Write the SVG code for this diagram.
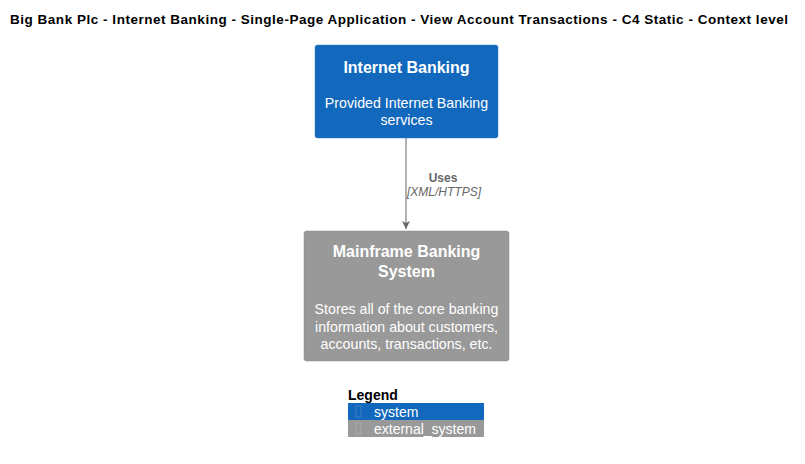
<svg xmlns="http://www.w3.org/2000/svg" width="805" height="464" viewBox="0 0 805 464">
<style>
text{font-family:"Liberation Sans",Arial,sans-serif}
.title{font-size:13.5px;font-weight:bold;fill:#000}
.nt{font-size:16px;font-weight:bold;fill:#fff;text-anchor:middle}
.nd{font-size:14.2px;fill:#fff;text-anchor:middle}
.rl{font-size:12px;font-weight:bold;fill:#666;text-anchor:middle}
.rt{font-size:12px;font-style:italic;fill:#666;text-anchor:middle}
.lg{font-size:14px;fill:#fff}
</style>
<defs>
<marker id="arr" markerWidth="10" markerHeight="10" refX="8" refY="4" orient="auto" markerUnits="userSpaceOnUse">
<path d="M0,0 L8,4 L0,8 L2,4 Z" fill="#666"/>
</marker>
</defs>
<rect width="805" height="464" fill="#fff"/>
<text class="title" x="10" y="24" textLength="778" lengthAdjust="spacing">Big Bank Plc - Internet Banking - Single-Page Application - View Account Transactions - C4 Static - Context level</text>
<g id="connectors">
<line x1="406" y1="138" x2="406" y2="229" stroke="#666" stroke-width="1" marker-end="url(#arr)"/>
<text class="rl" x="443" y="182">Uses</text>
<text class="rt" x="444" y="196">[XML/HTTPS]</text>
</g>
<g id="internet_banking">
<rect x="315" y="45" width="183" height="93" rx="2.5" fill="#1168BD" stroke="#3C7FC0" stroke-width="0.5"/>
<text class="nt" x="406.5" y="73">Internet Banking</text>
<text class="nd" x="406.5" y="108">Provided Internet Banking</text>
<text class="nd" x="406.5" y="125">services</text>
</g>
<g id="mainframe">
<rect x="304" y="231" width="205" height="130" rx="2.5" fill="#999999" stroke="#8A8A8A" stroke-width="0.5"/>
<text class="nt" x="406.5" y="257">Mainframe Banking</text>
<text class="nt" x="406.5" y="277">System</text>
<text class="nd" x="406.5" y="314">Stores all of the core banking</text>
<text class="nd" x="406.5" y="332">information about customers,</text>
<text class="nd" x="406.5" y="349">accounts, transactions, etc.</text>
</g>
<g id="legend">
<text x="348" y="400" font-size="14" font-weight="bold" fill="#000">Legend</text>
<rect x="348" y="403" width="136" height="17" fill="#1168BD"/>
<rect x="356" y="406" width="5" height="11" fill="none" stroke="#3C7FC0" stroke-width="1"/>
<text class="lg" x="374" y="417">system</text>
<rect x="348" y="420" width="136" height="17" fill="#999999"/>
<rect x="356" y="423" width="5" height="11" fill="none" stroke="#AAAAAA" stroke-width="1"/>
<text class="lg" x="374" y="434">external_system</text>
</g>
</svg>
